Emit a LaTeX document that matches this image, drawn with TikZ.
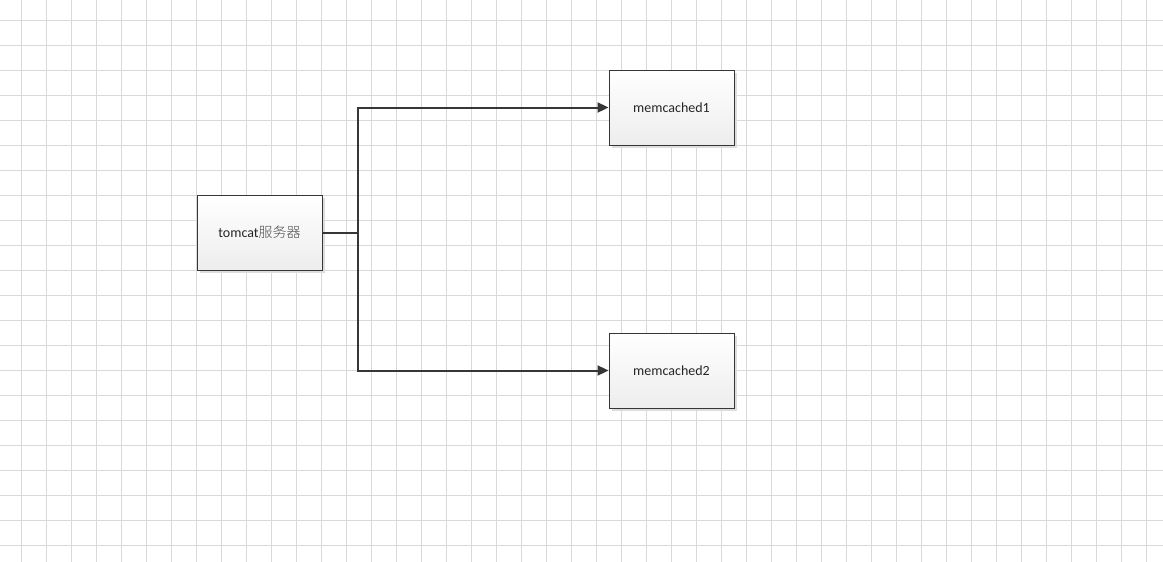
\documentclass[tikz,border=0pt]{standalone}
\usepackage{fontspec}
\setmainfont{Carlito}
\newfontfamily\cjk{Noto Sans CJK SC Light}
\usetikzlibrary{arrows.meta,shadows}
\definecolor{gridc}{HTML}{D9D9D9}
\definecolor{linec}{HTML}{363636}
\definecolor{boxbot}{HTML}{EDEDED}
\definecolor{shadowc}{HTML}{DDDDDD}
\tikzset{
  boxnode/.style={draw=linec, line width=0.9pt, minimum width=125pt, minimum height=75pt,
    top color=white, bottom color=boxbot, inner sep=0pt, font=\fontsize{14pt}{16pt}\selectfont,
    text=black!85,
    drop shadow={shadow xshift=3pt, shadow yshift=-3pt, fill=shadowc, opacity=1}},
  conn/.style={draw=linec, line width=2pt},
  arr/.style={conn, -{Triangle[length=11pt,width=10pt]}}
}
\begin{document}
\begin{tikzpicture}[x=1pt,y=-1pt]
\useasboundingbox (0,0) rectangle (1163,562);
\fill[white] (0,0) rectangle (1163,562);
\foreach \k in {0,...,45} \draw[gridc, line width=1pt] (21+25*\k,0) -- (21+25*\k,562);
\foreach \k in {0,...,21} \draw[gridc, line width=1pt] (0,20+25*\k) -- (1163,20+25*\k);
\node[boxnode] (tomcat) at (259.5,232.5) {tomcat{\cjk\color{black!70}服务器}};
\node[boxnode] (m1) at (671.5,107.5) {memcached1};
\node[boxnode] (m2) at (671.5,370.5) {memcached2};
\coordinate (j) at (358,232.5);
\draw[conn] (tomcat.east) -- (j);
\draw[arr] (j) |- (m1.west);
\draw[arr] (j) |- (m2.west);
\end{tikzpicture}
\end{document}
